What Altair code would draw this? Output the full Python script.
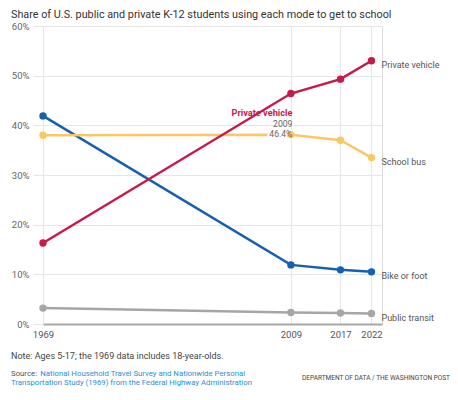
import altair as alt
import pandas as pd

years = [1969, 2009, 2017, 2022]
modes = ["Public transit", "Bike or foot", "School bus", "Private vehicle"]
private_vehicle = [16.3, 46.4, 49.3, 53.0]
school_bus = [38.0, 38.1, 37.0, 33.5]
bike_or_foot = [41.9, 11.9, 10.9, 10.5]
public_transit = [3.2, 2.3, 2.2, 2.1]
colors = ["#a6a6a6", "#1560b0", "#f9c864", "#c8194b"]
y_ticks = [0, 10, 20, 30, 40, 50, 60]

series = {
    "Private vehicle": private_vehicle,
    "School bus": school_bus,
    "Bike or foot": bike_or_foot,
    "Public transit": public_transit,
}
rows = []
for m in modes:
    for yr, v in zip(years, series[m]):
        rows.append({"year": yr, "share": v, "mode": m})
df = pd.DataFrame(rows)
last = df[df["year"] == years[-1]]
ann = df[(df["mode"] == "Private vehicle") & (df["year"] == 2009)].copy()
ann["pct"] = ann["share"].map(lambda v: f"{v:.1f}%")
ann["yr"] = ann["year"].astype(str)

FONT = "Roboto"
W, H = 339, 298

x = alt.X("year:Q", scale=alt.Scale(domain=[1969, 2023.7], nice=False, zero=False),
          axis=alt.Axis(values=years, format="d", title=None, grid=True, gridColor="#e6e6e6",
                        ticks=False, labelPadding=5, labelFontSize=9.5, labelColor="#555",
                        labelFont=FONT, domainColor="#a8a8a8", domainWidth=2,
                        labelFlush=False))
y = alt.Y("share:Q", scale=alt.Scale(domain=[0, 60], nice=False),
          axis=alt.Axis(values=y_ticks, title=None, labelExpr="datum.value + '%'",
                        gridColor="#e6e6e6", tickColor="#e6e6e6", tickSize=10,
                        labelPadding=4, labelFontSize=9.5, labelColor="#666",
                        labelFont=FONT, domain=False))
color = alt.Color("mode:N", scale=alt.Scale(domain=modes, range=colors), legend=None)

base = alt.Chart(df)
lines = base.mark_line(strokeWidth=2.5).encode(x=x, y=y, color=color, order=alt.Order("year:Q"))
points = base.mark_circle(size=55, opacity=1).encode(x=x, y=y, color=color)

end_labels = alt.Chart(last).mark_text(align="left", baseline="middle", dx=10, dy=4,
                                       fontSize=9, font=FONT, color="#555").encode(
    x="year:Q", y="share:Q", text="mode:N")

ann_title = alt.Chart(ann).mark_text(align="right", baseline="alphabetic", dx=1.5, dy=22.4,
                                     fontSize=9.2, fontWeight="bold", font=FONT,
                                     color="#c8194b").encode(x="year:Q", y="share:Q", text="mode:N")
ann_year = alt.Chart(ann).mark_text(align="right", baseline="alphabetic", dx=1.5, dy=33.4,
                                    fontSize=8.6, font=FONT, color="#666").encode(
    x="year:Q", y="share:Q", text="yr:N")
ann_pct_halo = alt.Chart(ann).mark_text(align="right", baseline="alphabetic", dx=1.5, dy=43,
                                        fontSize=8.6, font=FONT, color="white", stroke="white",
                                        strokeWidth=4).encode(x="year:Q", y="share:Q", text="pct:N")
ann_pct = alt.Chart(ann).mark_text(align="right", baseline="alphabetic", dx=1.5, dy=43,
                                   fontSize=8.6, font=FONT, color="#666").encode(
    x="year:Q", y="share:Q", text="pct:N")

one = alt.Data(values=[{"a": 1}])


def label(txt, xv, yv, size, color_, align="left", weight="normal"):
    return alt.Chart(one).mark_text(align=align, baseline="alphabetic", fontSize=size,
                                    font=FONT, color=color_, fontWeight=weight).encode(
        x=alt.value(xv), y=alt.value(yv), text=alt.value(txt))


title = label("Share of U.S. public and private K-12 students using each mode to get to school",
              -32, -8, 10.8, "#333")
note = label("Note: Ages 5-17; the 1969 data includes 18-year-olds.", -32, 333, 9, "#444")
src1a = label("Source:", -32, 349.7, 7.8, "#555")
src1b = label("National Household Travel Survey and Nationwide Personal", -2.7, 349.7, 7.8, "#2a8fd3")
src2 = label("Transportation Study (1969) from the Federal Highway Administration", -32, 359, 7.8, "#2a8fd3")
dept = label("DEPARTMENT OF DATA / THE WASHINGTON POST", 407, 354, 6.5, "#444", align="right")

chart = alt.layer(
    lines, ann_pct_halo, points, end_labels, ann_title, ann_year, ann_pct,
    title, note, src1a, src1b, src2, dept
).properties(
    width=W, height=H,
    autosize=alt.AutoSizeParams(type="none"),
    padding={"left": 35, "top": 18, "right": 68, "bottom": 68},
).configure_view(stroke=None).configure(background="white")

chart.save("out.html", embed_options={"renderer": "svg", "actions": False})
